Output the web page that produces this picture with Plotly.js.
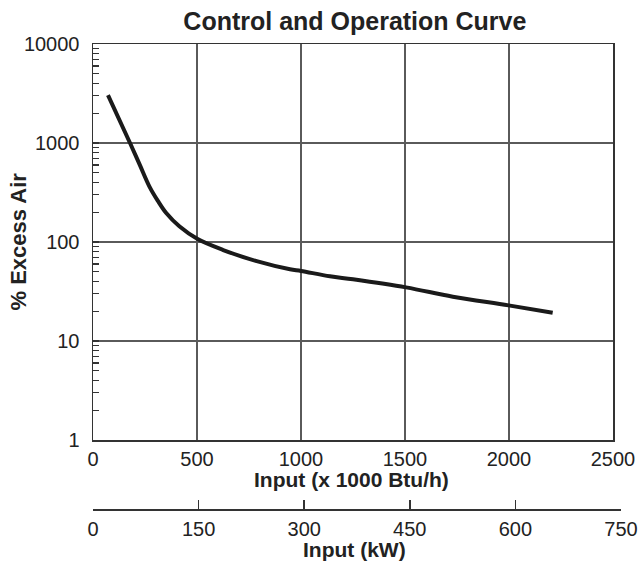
<!DOCTYPE html>
<html>
<head>
<meta charset="utf-8">
<script src="https://cdn.plot.ly/plotly-3.0.1.min.js"></script>
<style>html,body{margin:0;padding:0;background:#fff;}#chart{width:642px;height:565px;}</style>
</head>
<body>
<div id="chart"></div>
<script>
// Curve: input (x 1000 Btu/h) vs % excess air
var inputBtu = [72, 178, 225, 272, 311, 352, 415, 503, 626, 787, 947, 1000, 1139, 1250, 1505, 1730, 1998, 2210];
var excessAir = [3050, 1000, 601, 361, 262, 196, 144, 107, 83, 64, 53, 51, 45, 42, 34.8, 28, 22.9, 19.3];

var yTickVals = [1, 10, 100, 1000, 10000];
var yTickText = ['1', '10', '100', '1000', '10000'];
var yMinorVals = [2, 3, 4, 5, 6, 7, 8, 9,
                  20, 30, 40, 50, 60, 70, 80, 90,
                  200, 300, 400, 500, 600, 700, 800, 900,
                  2000, 3000, 4000, 5000, 6000, 7000, 8000, 9000];
var btuTickVals = [0, 500, 1000, 1500, 2000, 2500];
var kwTickVals = [0, 150, 300, 450, 600, 750];

var FONT = 'Liberation Sans, Arial, Helvetica, sans-serif';
var AXC = '#333333';
var GRIDC = '#5a5a5a';

var traces = [
  {
    x: inputBtu, y: excessAir, xaxis: 'x', yaxis: 'y',
    mode: 'lines', line: {color: '#1a1a1a', width: 4, shape: 'spline', smoothing: 1.0},
    hoverinfo: 'skip', showlegend: false
  },
  {
    x: [], y: [], xaxis: 'x2', yaxis: 'y2', mode: 'lines',
    hoverinfo: 'skip', showlegend: false
  },
  {
    x: [], y: [], xaxis: 'x', yaxis: 'y3', mode: 'lines',
    hoverinfo: 'skip', showlegend: false
  }
];

var layout = {
  width: 642, height: 565,
  margin: {l: 93, r: 21, t: 44, b: 56, pad: 0},
  paper_bgcolor: '#ffffff', plot_bgcolor: '#ffffff',
  font: {family: FONT, size: 20, color: '#222222'},
  showlegend: false,
  title: {
    text: 'Control and Operation Curve',
    font: {family: FONT, size: 25, color: '#222222', weight: 'bold'},
    x: 0.496, xref: 'paper', xanchor: 'center',
    y: 1 - 21 / 565, yref: 'container', yanchor: 'middle'
  },
  xaxis: {
    domain: [0, 520 / 528], range: [0, 2500], anchor: 'y',
    tickvals: btuTickVals, ticks: '',
    showgrid: true, gridcolor: GRIDC, gridwidth: 1.2,
    showline: true, linecolor: AXC, linewidth: 1.5, mirror: true,
    zeroline: false, ticklabelstandoff: 0,
    tickfont: {family: FONT, size: 20, color: '#222222'}
  },
  yaxis: {
    domain: [69 / 465, 1], type: 'log', range: [0, 4], anchor: 'x',
    tickvals: yTickVals, ticktext: yTickText,
    ticks: 'inside', ticklen: 6, tickcolor: AXC, tickwidth: 1.2,
    showgrid: true, gridcolor: GRIDC, gridwidth: 1.2,
    showline: true, linecolor: AXC, linewidth: 1.5, mirror: true,
    zeroline: false, ticklabelstandoff: 8,
    tickfont: {family: FONT, size: 20, color: '#222222'}
  },
  yaxis3: {
    overlaying: 'y', anchor: 'x', side: 'left', type: 'log', range: [0, 4],
    tickmode: 'array', tickvals: yMinorVals, ticks: 'inside', ticklen: 6, tickcolor: AXC, tickwidth: 1.3,
    showticklabels: false, showgrid: false, showline: false, zeroline: false
  },
  xaxis2: {
    domain: [0, 1], range: [0, 750], anchor: 'y2', side: 'bottom',
    tickvals: kwTickVals, ticks: 'inside', ticklen: 9, tickcolor: AXC, tickwidth: 1.5,
    showgrid: false, showline: true, linecolor: AXC, linewidth: 1.5,
    zeroline: false, ticklabelstandoff: 1,
    tickfont: {family: FONT, size: 20, color: '#222222'}
  },
  yaxis2: {
    domain: [0, 0.01], range: [0, 1], anchor: 'x2',
    showgrid: false, showline: false, showticklabels: false, ticks: '', zeroline: false
  },
  annotations: [
    {
      text: '% Excess Air', xref: 'paper', yref: 'paper',
      x: (17.5 - 93) / 528, y: (509 - 242) / 465, xanchor: 'center', yanchor: 'middle',
      textangle: -90, showarrow: false,
      font: {family: FONT, size: 22, color: '#222222', weight: 'bold'}
    },
    {
      text: 'Input (x 1000 Btu/h)', xref: 'paper', yref: 'paper',
      x: (351 - 93) / 528, y: (509 - 479) / 465, xanchor: 'center', yanchor: 'middle',
      showarrow: false,
      font: {family: FONT, size: 21, color: '#222222', weight: 'bold'}
    },
    {
      text: 'Input (kW)', xref: 'paper', yref: 'paper',
      x: (354.7 - 93) / 528, y: (509 - 549) / 465, xanchor: 'center', yanchor: 'middle',
      showarrow: false,
      font: {family: FONT, size: 21, color: '#222222', weight: 'bold'}
    }
  ]
};

Plotly.newPlot('chart', traces, layout, {staticPlot: true, displayModeBar: false});
</script>
</body>
</html>
